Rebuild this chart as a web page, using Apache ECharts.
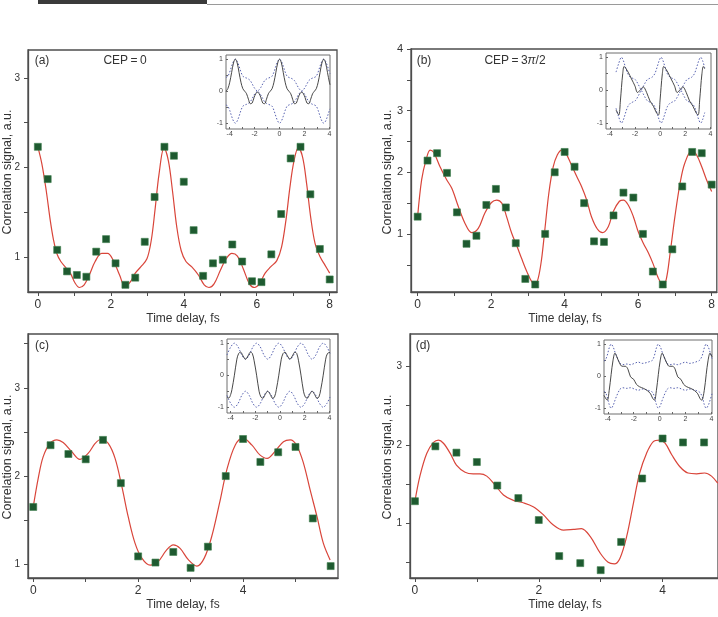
<!DOCTYPE html>
<html>
<head>
<meta charset="utf-8">
<script src="https://cdn.jsdelivr.net/npm/echarts@6/dist/echarts.min.js"></script>
<style>
html,body{margin:0;padding:0;background:#fff;}
#chart{width:718px;height:617px;}
</style>
</head>
<body>
<div id="chart"></div>
<script>
// ---------- Panel (a): CEP = 0 ----------
const A_x = [0, 0.27, 0.53, 0.8, 1.07, 1.33, 1.6, 1.87, 2.13, 2.4, 2.67, 2.93, 3.2, 3.47, 3.73, 4.0, 4.27, 4.53, 4.8, 5.07, 5.33, 5.6, 5.87, 6.13, 6.4, 6.67, 6.93, 7.2, 7.47, 7.73, 8.0];
const A_y = [2.23, 1.87, 1.08, 0.84, 0.80, 0.78, 1.06, 1.20, 0.93, 0.69, 0.77, 1.17, 1.67, 2.23, 2.13, 1.84, 1.30, 0.79, 0.93, 0.97, 1.14, 0.95, 0.73, 0.72, 1.03, 1.48, 2.10, 2.23, 1.70, 1.09, 0.75];
const CA_x = [0, 0.11, 0.23, 0.34, 0.43, 0.52, 0.63, 0.75, 0.89, 1.02, 1.14, 1.27, 1.41, 1.57, 1.75, 1.91, 2.07, 2.24, 2.39, 2.53, 2.67, 2.82, 2.99, 3.11, 3.21, 3.32, 3.46, 3.58, 3.69, 3.81, 3.93, 4.06, 4.22, 4.40, 4.56, 4.69, 4.83, 5.0, 5.16, 5.32, 5.47, 5.63, 5.80, 5.94, 6.07, 6.23, 6.38, 6.55, 6.68, 6.80, 6.91, 7.02, 7.14, 7.26, 7.37, 7.48, 7.60, 7.74, 7.87, 8.0];
const CA_y = [2.23, 2.04, 1.74, 1.41, 1.19, 1.04, 0.95, 0.89, 0.82, 0.71, 0.66, 0.69, 0.80, 0.95, 1.04, 1.04, 0.96, 0.80, 0.67, 0.72, 0.82, 0.89, 0.98, 1.19, 1.52, 1.92, 2.22, 2.07, 1.74, 1.33, 1.07, 0.95, 0.89, 0.80, 0.69, 0.66, 0.70, 0.85, 0.98, 1.04, 1.01, 0.87, 0.70, 0.66, 0.70, 0.82, 0.89, 0.96, 1.11, 1.41, 1.78, 2.07, 2.22, 2.11, 1.81, 1.44, 1.15, 1.0, 0.91, 0.82];

// ---------- Panel (b): CEP = 3pi/2 ----------
const B_x = [0, 0.27, 0.53, 0.8, 1.07, 1.33, 1.6, 1.87, 2.13, 2.4, 2.67, 2.93, 3.2, 3.47, 3.73, 4.0, 4.27, 4.53, 4.8, 5.07, 5.33, 5.6, 5.87, 6.13, 6.4, 6.67, 6.93, 7.2, 7.47, 7.73, 8.0];
const B_y = [1.28, 2.19, 2.31, 1.99, 1.35, 0.84, 0.97, 1.47, 1.73, 1.43, 0.85, 0.27, 0.18, 1.0, 2.0, 2.33, 2.09, 1.50, 0.88, 0.87, 1.30, 1.67, 1.59, 1.0, 0.39, 0.18, 0.75, 1.77, 2.33, 2.31, 1.80];
const CB_x = [0, 0.11, 0.23, 0.34, 0.44, 0.61, 0.79, 0.93, 1.11, 1.29, 1.47, 1.65, 1.83, 2.01, 2.15, 2.29, 2.42, 2.56, 2.69, 2.83, 2.97, 3.10, 3.19, 3.28, 3.37, 3.46, 3.57, 3.69, 3.80, 3.92, 4.03, 4.16, 4.33, 4.46, 4.60, 4.73, 4.89, 5.03, 5.19, 5.32, 5.49, 5.60, 5.73, 5.87, 6.00, 6.14, 6.28, 6.41, 6.55, 6.67, 6.76, 6.87, 7.00, 7.14, 7.27, 7.46, 7.59, 7.73, 7.86, 8.0];
const CB_y = [1.28, 1.88, 2.20, 2.36, 2.32, 2.09, 1.88, 1.74, 1.44, 1.17, 1.02, 1.09, 1.34, 1.51, 1.55, 1.50, 1.28, 1.01, 0.82, 0.60, 0.39, 0.23, 0.18, 0.28, 0.58, 1.06, 1.66, 2.09, 2.28, 2.36, 2.31, 2.15, 1.93, 1.77, 1.55, 1.28, 1.08, 1.02, 1.12, 1.36, 1.53, 1.55, 1.47, 1.28, 1.04, 0.85, 0.69, 0.51, 0.28, 0.18, 0.25, 0.69, 1.28, 1.82, 2.15, 2.35, 2.28, 2.09, 1.88, 1.69];

// ---------- Panel (c) ----------
const C_x = [0, 0.33, 0.67, 1.0, 1.33, 1.67, 2.0, 2.33, 2.67, 3.0, 3.33, 3.67, 4.0, 4.33, 4.67, 5.0, 5.33, 5.67];
const C_y = [1.65, 2.35, 2.25, 2.19, 2.41, 1.92, 1.09, 1.02, 1.14, 0.96, 1.20, 2.0, 2.42, 2.16, 2.27, 2.33, 1.52, 0.98];
const CC_x = [0, 0.10, 0.19, 0.32, 0.45, 0.57, 0.73, 0.89, 1.05, 1.18, 1.30, 1.43, 1.56, 1.69, 1.81, 1.94, 2.07, 2.23, 2.38, 2.54, 2.67, 2.80, 2.96, 3.12, 3.26, 3.40, 3.55, 3.69, 3.85, 4.0, 4.17, 4.32, 4.46, 4.61, 4.77, 4.90, 5.02, 5.15, 5.28, 5.41, 5.53, 5.66];
const CC_y = [1.65, 1.99, 2.22, 2.37, 2.41, 2.38, 2.28, 2.19, 2.26, 2.37, 2.42, 2.37, 2.20, 1.88, 1.54, 1.24, 1.07, 0.99, 1.03, 1.16, 1.22, 1.18, 1.05, 0.98, 1.07, 1.31, 1.69, 2.07, 2.35, 2.43, 2.35, 2.24, 2.20, 2.28, 2.39, 2.41, 2.35, 2.15, 1.84, 1.54, 1.24, 1.05];

// ---------- Panel (d) ----------
const D_x = [0, 0.33, 0.67, 1.0, 1.33, 1.67, 2.0, 2.33, 2.67, 3.0, 3.33, 3.67, 4.0, 4.33, 4.67];
const D_y = [1.28, 1.98, 1.90, 1.78, 1.48, 1.32, 1.04, 0.58, 0.49, 0.40, 0.76, 1.57, 2.08, 2.03, 2.03];
const CD_x = [0, 0.08, 0.19, 0.30, 0.38, 0.46, 0.57, 0.67, 0.81, 0.94, 1.05, 1.16, 1.29, 1.43, 1.59, 1.75, 1.91, 2.07, 2.23, 2.40, 2.56, 2.69, 2.83, 2.99, 3.12, 3.22, 3.31, 3.42, 3.53, 3.63, 3.74, 3.85, 3.95, 4.04, 4.15, 4.28, 4.41, 4.55, 4.68, 4.79, 4.89];
const CD_y = [1.28, 1.60, 1.89, 2.03, 2.06, 2.02, 1.89, 1.74, 1.65, 1.63, 1.63, 1.60, 1.49, 1.36, 1.29, 1.26, 1.21, 1.11, 0.98, 0.91, 0.92, 0.93, 0.83, 0.62, 0.50, 0.48, 0.55, 0.83, 1.26, 1.64, 1.89, 2.04, 2.06, 2.02, 1.87, 1.72, 1.64, 1.63, 1.64, 1.60, 1.51];

// ---------- Insets ----------
const IA_x = [-4.3, -4.15, -4.0, -3.85, -3.7, -3.55, -3.4, -3.25, -3.1, -2.95, -2.8, -2.65, -2.5, -2.35, -2.2, -2.05, -1.9, -1.78, -1.65, -1.5, -1.35, -1.2, -1.05, -0.9, -0.75, -0.6, -0.45, -0.3, -0.15, 0, 0.15, 0.3, 0.45, 0.6, 0.75, 0.9, 1.05, 1.2, 1.35, 1.5, 1.65, 1.78, 1.9, 2.05, 2.2, 2.35, 2.5, 2.65, 2.8, 2.95, 3.1, 3.25, 3.4, 3.55, 3.7, 3.85, 4.0, 4.05];
const IA_field = [0.0, 0.08, 0.28, 0.58, 0.88, 1.0, 0.88, 0.58, 0.28, 0.08, 0.0, -0.08, -0.25, -0.39, -0.37, -0.2, -0.07, -0.03, -0.07, -0.2, -0.37, -0.39, -0.25, -0.08, 0.0, 0.08, 0.28, 0.58, 0.88, 1.0, 0.88, 0.58, 0.28, 0.08, 0.0, -0.08, -0.25, -0.39, -0.37, -0.2, -0.07, -0.03, -0.07, -0.2, -0.37, -0.39, -0.25, -0.08, 0.0, 0.08, 0.28, 0.58, 0.88, 1.0, 0.88, 0.58, 0.28, 0.2];
const IA_dotA = [-0.43, -0.47, -0.6, -0.78, -0.93, -1, -0.93, -0.78, -0.6, -0.47, -0.43, -0.41, -0.38, -0.33, -0.23, -0.12, -0.04, 0, 0.04, 0.12, 0.23, 0.33, 0.38, 0.41, 0.43, 0.47, 0.6, 0.78, 0.93, 1, 0.93, 0.78, 0.6, 0.47, 0.43, 0.41, 0.38, 0.33, 0.23, 0.12, 0.04, 0, -0.04, -0.12, -0.23, -0.33, -0.38, -0.41, -0.43, -0.47, -0.6, -0.78, -0.93, -1, -0.93, -0.78, -0.6, -0.55];
const IA_dotB = [0.43, 0.47, 0.6, 0.78, 0.93, 1, 0.93, 0.78, 0.6, 0.47, 0.43, 0.41, 0.38, 0.33, 0.23, 0.12, 0.04, 0, -0.04, -0.12, -0.23, -0.33, -0.38, -0.41, -0.43, -0.47, -0.6, -0.78, -0.93, -1, -0.93, -0.78, -0.6, -0.47, -0.43, -0.41, -0.38, -0.33, -0.23, -0.12, -0.04, 0, 0.04, 0.12, 0.23, 0.33, 0.38, 0.41, 0.43, 0.47, 0.6, 0.78, 0.93, 1, 0.93, 0.78, 0.6, 0.55];

const IB_x = [-3.5, -3.35, -3.27, -3.15, -3.07, -2.97, -2.86, -2.7, -2.54, -2.27, -2.0, -1.79, -1.52, -1.34, -1.07, -0.8, -0.53, -0.27, -0.12, 0.0, 0.08, 0.18, 0.29, 0.45, 0.61, 0.88, 1.15, 1.36, 1.63, 1.81, 2.08, 2.35, 2.62, 2.88, 3.03, 3.15, 3.23, 3.33, 3.44, 3.55];
const IB_field = [-0.6, -0.72, -0.75, -0.3, 0.08, 0.5, 0.72, 0.65, 0.55, 0.34, 0.13, -0.07, 0.03, 0.1, -0.07, -0.33, -0.49, -0.7, -0.75, -0.3, 0.08, 0.5, 0.72, 0.65, 0.55, 0.34, 0.13, -0.07, 0.03, 0.1, -0.07, -0.33, -0.49, -0.7, -0.75, -0.3, 0.08, 0.5, 0.72, 0.65];
const IBD_x = [-3.5, -3.3, -3.07, -2.92, -2.77, -2.57, -2.37, -2.17, -1.97, -1.77, -1.57, -1.42, -1.22, -1.02, -0.82, -0.62, -0.42, -0.22, -0.07, 0.08, 0.23, 0.38, 0.58, 0.78, 0.98, 1.18, 1.38, 1.58, 1.73, 1.93, 2.13, 2.33, 2.53, 2.73, 2.93, 3.08, 3.23, 3.38, 3.55];
const IB_dotA = [-0.55, -0.8, -1, -0.9, -0.72, -0.5, -0.4, -0.36, -0.32, -0.2, -0.05, 0.05, 0.2, 0.32, 0.36, 0.4, 0.5, 0.72, 0.9, 1, 0.9, 0.72, 0.5, 0.4, 0.36, 0.32, 0.2, 0.05, -0.05, -0.2, -0.32, -0.36, -0.4, -0.5, -0.72, -0.9, -1, -0.9, -0.68];
const IB_dotB = [0.55, 0.8, 1, 0.9, 0.72, 0.5, 0.4, 0.36, 0.32, 0.2, 0.05, -0.05, -0.2, -0.32, -0.36, -0.4, -0.5, -0.72, -0.9, -1, -0.9, -0.72, -0.5, -0.4, -0.36, -0.32, -0.2, -0.05, 0.05, 0.2, 0.32, 0.36, 0.4, 0.5, 0.72, 0.9, 1, 0.9, 0.68];

const IC_x = [-4.3, -4.15, -4.0, -3.9, -3.7, -3.5, -3.35, -3.2, -3.0, -2.8, -2.6, -2.4, -2.25, -2.1, -1.9, -1.7, -1.55, -1.4, -1.2, -1.0, -0.8, -0.6, -0.45, -0.3, -0.1, 0.1, 0.25, 0.4, 0.6, 0.8, 1.0, 1.2, 1.35, 1.5, 1.7, 1.9, 2.05, 2.2, 2.4, 2.6, 2.8, 3.0, 3.15, 3.3, 3.5, 3.7, 3.85, 4.05];
const IC_field = [-0.68, -0.71, -0.6, -0.45, 0, 0.5, 0.68, 0.72, 0.6, 0.5, 0.6, 0.72, 0.68, 0.45, 0, -0.5, -0.68, -0.72, -0.6, -0.5, -0.6, -0.72, -0.68, -0.45, 0, 0.5, 0.68, 0.72, 0.6, 0.5, 0.6, 0.72, 0.68, 0.45, 0, -0.5, -0.68, -0.72, -0.6, -0.5, -0.6, -0.72, -0.68, -0.45, 0, 0.5, 0.68, 0.71];
const ICD_x = [-4.3, -4.0, -3.7, -3.4, -3.1, -2.8, -2.5, -2.2, -1.9, -1.6, -1.3, -1.0, -0.7, -0.4, -0.1, 0.2, 0.5, 0.8, 1.1, 1.4, 1.7, 2.0, 2.3, 2.6, 2.9, 3.2, 3.5, 3.8, 4.05];
const IC_dotUp = [0.63, 0.88, 1.0, 0.88, 0.63, 0.5, 0.63, 0.88, 1.0, 0.88, 0.63, 0.5, 0.63, 0.88, 1.0, 0.88, 0.63, 0.5, 0.63, 0.88, 1.0, 0.88, 0.63, 0.5, 0.63, 0.88, 1.0, 0.88, 0.68];
const IC_dotLo = [-0.63, -0.88, -1.0, -0.88, -0.63, -0.5, -0.63, -0.88, -1.0, -0.88, -0.63, -0.5, -0.63, -0.88, -1.0, -0.88, -0.63, -0.5, -0.63, -0.88, -1.0, -0.88, -0.63, -0.5, -0.63, -0.88, -1.0, -0.88, -0.68];

const ID_x = [-4.3, -4.05, -3.9, -3.75, -3.6, -3.45, -3.3, -3.1, -2.9, -2.65, -2.45, -2.25, -2.0, -1.8, -1.55, -1.25, -0.95, -0.7, -0.55, -0.4, -0.25, -0.1, 0.05, 0.2, 0.35, 0.55, 0.75, 1.0, 1.2, 1.4, 1.65, 1.85, 2.1, 2.4, 2.7, 2.95, 3.1, 3.25, 3.45, 3.6, 3.75, 3.9, 4.05];
const ID_field = [-0.6, -0.75, -0.45, 0.05, 0.5, 0.72, 0.6, 0.41, 0.31, 0.31, 0.22, -0.02, -0.1, -0.25, -0.33, -0.38, -0.45, -0.55, -0.68, -0.75, -0.45, 0.05, 0.5, 0.72, 0.6, 0.41, 0.31, 0.31, 0.22, -0.02, -0.1, -0.25, -0.33, -0.38, -0.45, -0.55, -0.68, -0.75, -0.45, 0.05, 0.5, 0.72, 0.6];
const IDD_x = [-4.3, -4.2, -4.05, -3.9, -3.75, -3.6, -3.45, -3.25, -3.05, -2.85, -2.55, -2.25, -1.95, -1.65, -1.35, -1.05, -0.75, -0.55, -0.4, -0.25, -0.1, 0.05, 0.2, 0.4, 0.6, 0.8, 1.1, 1.4, 1.7, 2.0, 2.3, 2.6, 2.9, 3.1, 3.3, 3.45, 3.6, 3.75, 3.9, 4.05];
const ID_dotUp = [0.48, 0.5, 0.65, 0.88, 1.0, 0.92, 0.75, 0.55, 0.4, 0.36, 0.38, 0.36, 0.4, 0.44, 0.4, 0.42, 0.46, 0.5, 0.65, 0.88, 1.0, 0.92, 0.75, 0.55, 0.4, 0.36, 0.38, 0.36, 0.4, 0.44, 0.4, 0.42, 0.46, 0.5, 0.65, 0.88, 1.0, 0.92, 0.75, 0.55];
const ID_dotLo = [-0.48, -0.5, -0.65, -0.88, -1.0, -0.92, -0.75, -0.55, -0.4, -0.36, -0.38, -0.36, -0.4, -0.44, -0.4, -0.42, -0.46, -0.5, -0.65, -0.88, -1.0, -0.92, -0.75, -0.55, -0.4, -0.36, -0.38, -0.36, -0.4, -0.44, -0.4, -0.42, -0.46, -0.5, -0.65, -0.88, -1.0, -0.92, -0.75, -0.55];

// ---------- tick labels ----------
const xTicks8 = [0, 1, 2, 3, 4, 5, 6, 7, 8];
const xLabels8 = [0, 2, 4, 6, 8];
const xTicks5 = [0, 1, 2, 3, 4, 5];
const xTicks4 = [0, 1, 2, 3, 4];
const xLabels4 = [0, 2, 4];
const yTicksA = [1, 1.5, 2, 2.5, 3];
const yTicksB = [0.5, 1, 1.5, 2, 2.5, 3, 3.5, 4];
const yTicksC = [1, 1.5, 2, 2.5, 3, 3.5];
const yTicksD = [0.5, 1, 1.5, 2, 2.5, 3];
const yLabels3 = [1, 2, 3];
const yLabels4 = [1, 2, 3, 4];
const insetXTicks = [-4, -3, -2, -1, 0, 1, 2, 3, 4];
const insetXLabels = [-4, -2, 0, 2, 4];
const insetYTicks = [-1, -0.5, 0, 0.5, 1];
const insetYLabels = [-1, 0, 1];

const FONT = '"Liberation Sans", Arial, Helvetica, sans-serif';
const zip = (xs, ys) => xs.map((x, i) => [x, ys[i]]);

const grids = [
  {left: 28, top: 50, width: 309, height: 242},   // a
  {left: 411, top: 49, width: 306, height: 243},  // b
  {left: 28, top: 334, width: 310, height: 244},  // c
  {left: 410, top: 334, width: 308, height: 244}, // d
  {left: 226, top: 55, width: 104, height: 74},   // inset a
  {left: 606, top: 53, width: 105, height: 76},   // inset b
  {left: 227, top: 339, width: 103, height: 74},  // inset c
  {left: 604, top: 340, width: 108, height: 74}   // inset d
].map((g, i) => Object.assign({
  show: true,
  backgroundColor: i >= 4 ? '#ffffff' : 'transparent',
  borderColor: i >= 4 ? '#6e6e6e' : '#4d4d4d',
  borderWidth: i >= 4 ? 1 : 1.3,
  containLabel: false
}, g));

function mainX(gi, min, max, ticks, labels) {
  return {
    gridIndex: gi, type: 'value', min: min, max: max,
    splitLine: {show: false},
    axisLine: {show: true, onZero: false, lineStyle: {color: '#4d4d4d', width: 1.3}},
    axisTick: {show: true, inside: false, length: 4, customValues: ticks, lineStyle: {color: '#4d4d4d'}},
    axisLabel: {customValues: labels, fontSize: 12, color: '#333', margin: 7, fontFamily: FONT}
  };
}
function mainY(gi, min, max, ticks, labels, fs) {
  return {
    gridIndex: gi, type: 'value', min: min, max: max,
    splitLine: {show: false},
    axisLine: {show: true, onZero: false, lineStyle: {color: '#4d4d4d', width: 1.3}},
    axisTick: {show: true, inside: false, length: 4, customValues: ticks, lineStyle: {color: '#4d4d4d'}},
    axisLabel: {customValues: labels, fontSize: fs, color: '#333', margin: 8, fontFamily: FONT}
  };
}
function insetX(gi) {
  return {
    gridIndex: gi, type: 'value', min: -4.3, max: 4.05,
    splitLine: {show: false},
    axisLine: {show: false, onZero: false},
    axisTick: {show: true, inside: true, length: 2, customValues: insetXTicks, lineStyle: {color: '#666'}},
    axisLabel: {customValues: insetXLabels, fontSize: 7, color: '#444', margin: 2, fontFamily: FONT}
  };
}
function insetY(gi) {
  return {
    gridIndex: gi, type: 'value', min: -1.18, max: 1.13,
    splitLine: {show: false},
    axisLine: {show: false, onZero: false},
    axisTick: {show: true, inside: true, length: 2, customValues: insetYTicks, lineStyle: {color: '#666'}},
    axisLabel: {customValues: insetYLabels, fontSize: 7, color: '#444', margin: 3, fontFamily: FONT}
  };
}

const xAxes = [
  mainX(0, -0.27, 8.2, xTicks8, xLabels8),
  mainX(1, -0.18, 8.14, xTicks8, xLabels8),
  mainX(2, -0.1, 5.81, xTicks5, xLabels4),
  mainX(3, -0.08, 4.895, xTicks4, xLabels4),
  insetX(4), insetX(5), insetX(6), insetX(7)
];
const yAxes = [
  mainY(0, 0.61, 3.31, yTicksA, yLabels3, 10),
  mainY(1, 0.058, 4.0, yTicksB, yLabels4, 11),
  mainY(2, 0.845, 3.61, yTicksC, yLabels3, 10),
  mainY(3, 0.30, 3.414, yTicksD, yLabels3, 10),
  insetY(4), insetY(5), insetY(6), insetY(7)
];

const RED = '#d9453a';
const GREEN = '#1e5a30';
function fitLine(i, xs, ys) {
  return {type: 'line', xAxisIndex: i, yAxisIndex: i, data: zip(xs, ys), smooth: 0.35,
    showSymbol: false, lineStyle: {color: RED, width: 1.2}, z: 2, silent: true};
}
function pts(i, xs, ys) {
  return {type: 'scatter', xAxisIndex: i, yAxisIndex: i, data: zip(xs, ys), symbol: 'rect',
    symbolSize: 7, itemStyle: {color: GREEN, borderColor: '#3c7d4c', borderWidth: 0.6, opacity: 1}, z: 3, silent: true};
}
function solid(i, xs, ys) {
  return {type: 'line', xAxisIndex: i, yAxisIndex: i, data: zip(xs, ys), smooth: 0.35,
    showSymbol: false, lineStyle: {color: '#333333', width: 0.9}, z: 4, silent: true};
}
function dotted(i, xs, ys) {
  return {type: 'line', xAxisIndex: i, yAxisIndex: i, data: zip(xs, ys), smooth: 0.35,
    showSymbol: false, lineStyle: {color: '#5560b0', width: 1, type: [1.5, 1.8]}, z: 4, silent: true};
}

const series = [
  fitLine(0, CA_x, CA_y), pts(0, A_x, A_y),
  fitLine(1, CB_x, CB_y), pts(1, B_x, B_y),
  fitLine(2, CC_x, CC_y), pts(2, C_x, C_y),
  fitLine(3, CD_x, CD_y), pts(3, D_x, D_y),
  dotted(4, IA_x, IA_dotA), dotted(4, IA_x, IA_dotB), solid(4, IA_x, IA_field),
  dotted(5, IBD_x, IB_dotA), dotted(5, IBD_x, IB_dotB), solid(5, IB_x, IB_field),
  dotted(6, ICD_x, IC_dotUp), dotted(6, ICD_x, IC_dotLo), solid(6, IC_x, IC_field),
  dotted(7, IDD_x, ID_dotUp), dotted(7, IDD_x, ID_dotLo), solid(7, ID_x, ID_field)
];

function txt(x, y, s, fs, extra) {
  return Object.assign({type: 'text', x: x, y: y, z: 10, silent: true,
    style: {text: s, fontSize: fs, fill: '#333', fontFamily: FONT, align: 'center', verticalAlign: 'middle'}}, extra || {});
}
function vtxt(x, y, s) {
  return {type: 'text', x: x, y: y, rotation: Math.PI / 2, z: 10, silent: true,
    style: {text: s, fontSize: 12.5, fill: '#333', fontFamily: FONT, align: 'center', verticalAlign: 'middle'}};
}

const graphic = [
  {type: 'rect', shape: {x: 38, y: 0, width: 169, height: 4}, style: {fill: '#3a3a3a'}, silent: true},
  {type: 'line', shape: {x1: 207, y1: 4.5, x2: 718, y2: 4.5}, style: {stroke: '#9a9a9a', lineWidth: 1}, silent: true},
  txt(42, 61, '(a)', 12),
  txt(125, 61, 'CEP\u2009=\u20090', 12),
  txt(424, 61, '(b)', 12),
  {type: 'text', x: 515, y: 61, z: 10, silent: true,
    style: {text: '{n|CEP\u2009=\u20093}{i|\u03c0}{n|/2}', align: 'center', verticalAlign: 'middle',
      rich: {n: {fontSize: 12, fill: '#333', fontFamily: FONT}, i: {fontSize: 12, fill: '#333', fontFamily: FONT, fontStyle: 'italic'}}}},
  txt(42, 346, '(c)', 12),
  txt(423, 346, '(d)', 12),
  txt(183, 319, 'Time delay, fs', 12),
  txt(565, 319, 'Time delay, fs', 12),
  txt(183, 605, 'Time delay, fs', 12),
  txt(565, 605, 'Time delay, fs', 12),
  vtxt(8, 172, 'Correlation signal, a.u.'),
  vtxt(388, 172, 'Correlation signal, a.u.'),
  vtxt(8, 457, 'Correlation signal, a.u.'),
  vtxt(388, 457, 'Correlation signal, a.u.')
];

const chart = echarts.init(document.getElementById('chart'), null, {renderer: 'canvas'});
chart.setOption({
  animation: false,
  backgroundColor: '#ffffff',
  grid: grids,
  xAxis: xAxes,
  yAxis: yAxes,
  series: series,
  graphic: graphic
});
</script>
</body>
</html>
